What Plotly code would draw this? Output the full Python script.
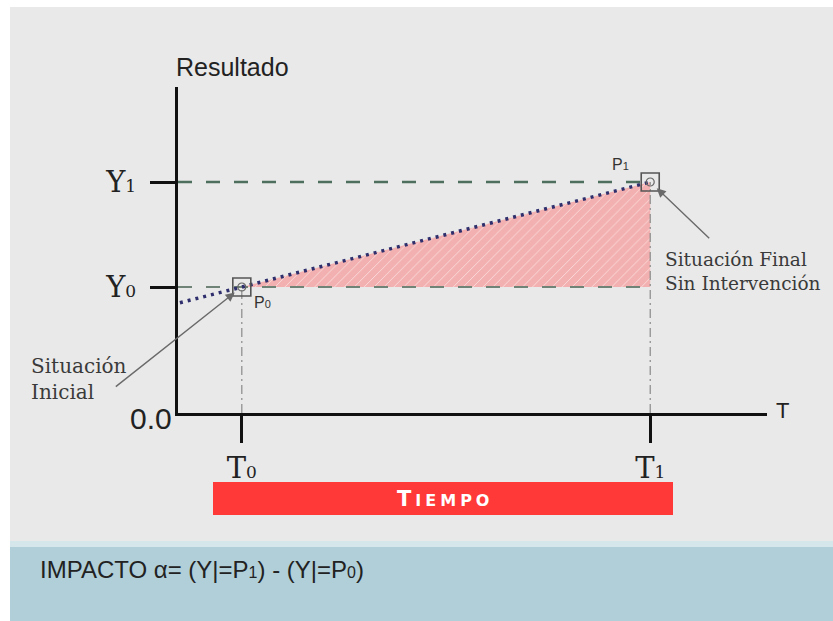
import plotly.graph_objects as go

# ---------------- data ----------------
time_names = ["T<span style='font-size:17px'>0</span>", "T<span style='font-size:17px'>1</span>"]
time_values = [1.0, 7.4]
result_names = ["Y<span style='font-size:17px'>0</span>", "Y<span style='font-size:17px'>1</span>"]
result_values = [1.2, 2.2]
point_names = ["P<span style='font-size:11px'>0</span>", "P<span style='font-size:11px'>1</span>"]
trend_t = [0.03, 1.0, 7.4]
trend_y = [1.05, 1.2, 2.2]
x_max = 9.23
y_max = 3.105

# ---------------- layout helpers ----------------
W, H = 833, 621
L, R, T, B = 178, 66, 87, 208


def px(x):
    return (x - L) / (W - L - R)


def py(y):
    return (H - B - y) / (H - T - B)


T0, T1 = time_values
Y0, Y1 = result_values

fig = go.Figure()

# impact triangle (hatched)
fig.add_trace(go.Scatter(
    x=[T0, T1, T1, T0], y=[Y0, Y1, Y0, Y0],
    mode="lines", line=dict(width=0), fill="toself",
    fillcolor="#f3b0b0",
    fillpattern=dict(shape="/", bgcolor="#f3b0b0", fgcolor="rgba(255,255,255,0.6)",
                     size=7, solidity=0.12, fillmode="replace"),
    hoverinfo="skip", showlegend=False))

# reference lines
fig.add_trace(go.Scatter(x=[0, T1], y=[Y1, Y1], mode="lines",
                         line=dict(color="#4f6f5e", width=2.5, dash="14px,14px"),
                         hoverinfo="skip", showlegend=False))
fig.add_trace(go.Scatter(x=[0, T1], y=[Y0, Y0], mode="lines",
                         line=dict(color="#6f8477", width=2, dash="14px,14px"),
                         hoverinfo="skip", showlegend=False))
fig.add_trace(go.Scatter(x=[T0, T0], y=[0, Y0], mode="lines",
                         line=dict(color="#8a8a8a", width=1.2, dash="9px,4px,2px,4px"),
                         hoverinfo="skip", showlegend=False))
fig.add_trace(go.Scatter(x=[T1, T1], y=[0, Y1], mode="lines",
                         line=dict(color="#8a8a8a", width=1.2, dash="9px,4px,2px,4px"),
                         hoverinfo="skip", showlegend=False))

# counterfactual trend (dotted)
fig.add_trace(go.Scatter(x=trend_t, y=trend_y, mode="lines",
                         line=dict(color="#2e2f6c", width=3.5, dash="3px,5px"),
                         hoverinfo="skip", showlegend=False))

# points
fig.add_trace(go.Scatter(x=time_values, y=result_values, mode="markers",
                         marker=dict(symbol="square-open", size=18, color="#555555",
                                     line=dict(width=1.6)),
                         hoverinfo="skip", showlegend=False))
fig.add_trace(go.Scatter(x=time_values, y=result_values, mode="markers",
                         marker=dict(symbol="circle-open", size=8, color="#666666",
                                     line=dict(width=1.2)),
                         hoverinfo="skip", showlegend=False))

serif = "DejaVu Serif, Liberation Serif, serif"
sans = "Liberation Sans, Arial, sans-serif"

fig.update_xaxes(range=[0, x_max], showgrid=False, zeroline=False,
                 showline=True, linecolor="#111111", linewidth=3,
                 tickmode="array", tickvals=time_values, ticktext=time_names,
                 ticks="outside", ticklen=27, tickwidth=3, tickcolor="#111111",
                 tickfont=dict(family=serif, size=29, color="#222222"),
                 fixedrange=True)
fig.update_yaxes(range=[0, y_max], showgrid=False, zeroline=False,
                 showline=True, linecolor="#111111", linewidth=3,
                 tickmode="array", tickvals=result_values, ticktext=result_names,
                 ticks="outside", ticklen=25, tickwidth=3, tickcolor="#111111",
                 tickfont=dict(family=serif, size=29, color="#222222"),
                 ticklabelstandoff=8, fixedrange=True)

shapes = [
    dict(type="rect", xref="paper", yref="paper", x0=px(10), x1=px(W), y0=py(7), y1=py(543),
         fillcolor="#e9e9e9", line=dict(width=0), layer="below"),
    dict(type="rect", xref="paper", yref="paper", x0=px(10), x1=px(W), y0=py(543), y1=py(H),
         fillcolor="#b0cfd9", line=dict(width=0), layer="below"),
    dict(type="rect", xref="paper", yref="paper", x0=px(10), x1=px(W), y0=py(541), y1=py(547),
         fillcolor="#d6e7ec", line=dict(width=0), layer="below"),
    dict(type="rect", xref="paper", yref="paper", x0=px(213), x1=px(673), y0=py(482), y1=py(515),
         fillcolor="#ff3838", line=dict(width=0), layer="above"),
]


def label(text, x, y, size, family=sans, color="#222222", xanchor="center", align="center"):
    return dict(text=text, xref="paper", yref="paper", x=px(x), y=py(y),
                xanchor=xanchor, yanchor="middle", align=align, showarrow=False,
                font=dict(family=family, size=size, color=color))


annotations = [
    label("Resultado", 232, 67, 25),
    label("T", 782, 410, 22),
    label("0.0", 151, 419, 30),
    dict(text=point_names[0], xref="x", yref="y", x=T0, y=Y0, xshift=21, yshift=-15,
         xanchor="center", yanchor="middle",
         showarrow=False, font=dict(family=sans, size=16, color="#333333")),
    dict(text=point_names[1], xref="x", yref="y", x=T1, y=Y1, xshift=-30, yshift=18,
         xanchor="center", yanchor="middle",
         showarrow=False, font=dict(family=sans, size=16, color="#333333")),
    label("Situación<br>Inicial", 29, 379, 20, family=serif, color="#3a3a3a",
          xanchor="left", align="left"),
    label("Situación Final<br>Sin Intervención", 663, 271, 18.5, family=serif,
          color="#3a3a3a", xanchor="left", align="left"),
    dict(text=" ", xref="x", yref="y", x=T0, y=Y0, ax=-129, ay=102,
         showarrow=True, arrowhead=2, arrowsize=1.3, arrowwidth=1.4,
         arrowcolor="#6a6a6a", standoff=9),
    dict(text=" ", xref="x", yref="y", x=T1, y=Y1, ax=62, ay=59,
         showarrow=True, arrowhead=2, arrowsize=1.3, arrowwidth=1.4,
         arrowcolor="#6a6a6a", standoff=9),
    label("<b><span style='font-size:21px'>T</span>\u2005I\u2005E\u2005M\u2005P\u2005O</b>",
          443, 499, 16, family="DejaVu Sans, sans-serif", color="#ffffff"),
    label("IMPACTO α= (Y|=P<span style='font-size:16px'>1</span>) - (Y|=P<span style='font-size:16px'>0</span>)",
          38, 569, 24,
          family="Liberation Sans Narrow, Arial Narrow, Liberation Sans, sans-serif",
          xanchor="left", align="left"),
]

fig.update_layout(
    width=W, height=H,
    margin=dict(l=L, r=R, t=T, b=B, pad=0),
    paper_bgcolor="#ffffff", plot_bgcolor="rgba(0,0,0,0)",
    shapes=shapes, annotations=annotations,
    showlegend=False,
)

fig.write_html("out.html", config={"displayModeBar": False},
               post_script="document.body.style.margin='0';")
